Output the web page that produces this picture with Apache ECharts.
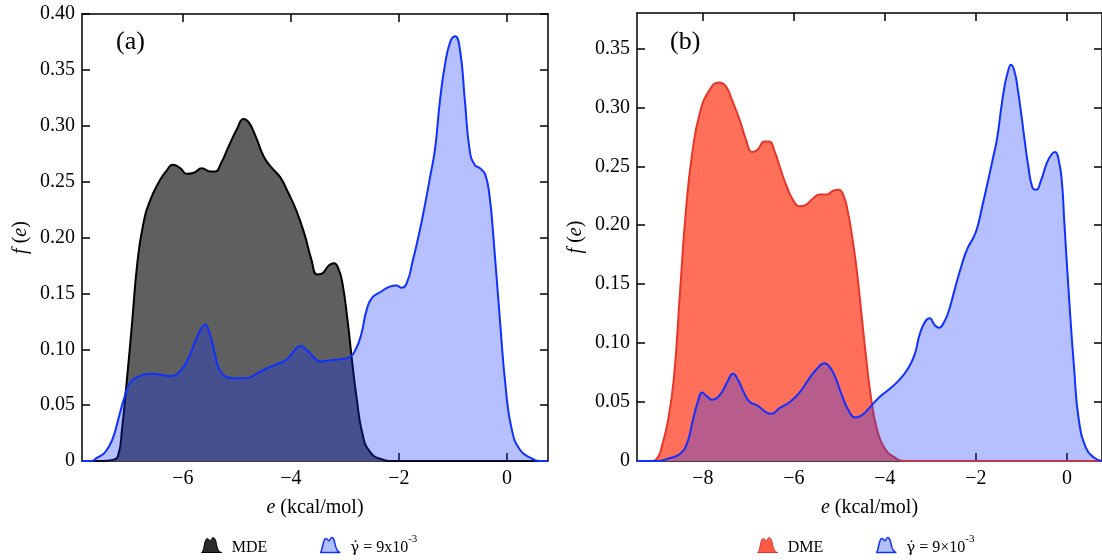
<!DOCTYPE html>
<html>
<head>
<meta charset="utf-8">
<script src="https://cdn.jsdelivr.net/npm/echarts@6/dist/echarts.min.js"></script>
<style>html,body{margin:0;padding:0;background:#fff;}#c{width:1102px;height:560px;}</style>
</head>
<body>
<div id="c"></div>
<script>
// ---------- Panel (a) ----------
var mdeX = [-7.87, -7.50, -7.30, -7.20, -7.13, -7.04, -6.94, -6.85, -6.74, -6.61, -6.43, -6.30, -6.19, -6.05, -5.93, -5.80, -5.65, -5.50, -5.40, -5.30, -5.15, -5.00, -4.88, -4.78, -4.65, -4.50, -4.35, -4.20, -4.05, -3.90, -3.75, -3.62, -3.52, -3.42, -3.30, -3.20, -3.12, -3.05, -2.95, -2.87, -2.78, -2.68, -2.55, -2.35, -2.10, 0.76];
var mdeY = [0, 0, 0.001, 0.005, 0.028, 0.072, 0.125, 0.175, 0.211, 0.233, 0.251, 0.260, 0.265, 0.262, 0.257, 0.258, 0.262, 0.259, 0.259, 0.266, 0.282, 0.297, 0.306, 0.303, 0.290, 0.272, 0.262, 0.254, 0.240, 0.224, 0.203, 0.180, 0.167, 0.168, 0.175, 0.177, 0.172, 0.160, 0.125, 0.090, 0.055, 0.025, 0.009, 0.002, 0, 0];

var gamAX = [-7.87, -7.70, -7.59, -7.44, -7.31, -7.20, -7.09, -6.98, -6.80, -6.61, -6.40, -6.24, -6.06, -5.90, -5.78, -5.67, -5.59, -5.50, -5.42, -5.33, -5.22, -5.09, -4.85, -4.57, -4.30, -4.10, -3.95, -3.83, -3.72, -3.60, -3.46, -3.30, -3.10, -2.91, -2.80, -2.70, -2.60, -2.50, -2.35, -2.17, -2.05, -1.95, -1.85, -1.75, -1.62, -1.52, -1.42, -1.33, -1.24, -1.15, -1.05, -0.96, -0.87, -0.78, -0.69, -0.60, -0.50, -0.40, -0.32, -0.26, -0.13, -0.02, 0.09, 0.24, 0.43, 0.60, 0.76];
var gamAY = [0, 0, 0.003, 0.008, 0.019, 0.037, 0.056, 0.070, 0.076, 0.078, 0.077, 0.076, 0.080, 0.092, 0.106, 0.118, 0.122, 0.113, 0.098, 0.082, 0.076, 0.074, 0.074, 0.080, 0.086, 0.090, 0.098, 0.103, 0.100, 0.094, 0.089, 0.090, 0.091, 0.093, 0.100, 0.113, 0.135, 0.146, 0.151, 0.156, 0.157, 0.155, 0.160, 0.178, 0.205, 0.229, 0.255, 0.280, 0.323, 0.354, 0.375, 0.380, 0.368, 0.323, 0.278, 0.265, 0.262, 0.256, 0.236, 0.206, 0.126, 0.064, 0.028, 0.010, 0.003, 0, 0];

// ---------- Panel (b) ----------
var dmeX = [-9.45, -9.10, -8.98, -8.90, -8.77, -8.64, -8.51, -8.38, -8.24, -8.07, -7.85, -7.65, -7.50, -7.35, -7.19, -7.05, -6.92, -6.80, -6.65, -6.55, -6.42, -6.30, -6.15, -6.00, -5.88, -5.75, -5.60, -5.44, -5.28, -5.15, -5.02, -4.90, -4.82, -4.74, -4.63, -4.52, -4.41, -4.30, -4.17, -4.01, -3.79, -3.57, 0.77];
var dmeY = [0, 0, 0.004, 0.013, 0.034, 0.070, 0.140, 0.210, 0.260, 0.295, 0.315, 0.321, 0.318, 0.305, 0.289, 0.272, 0.262, 0.264, 0.271, 0.271, 0.262, 0.248, 0.232, 0.220, 0.216, 0.217, 0.222, 0.226, 0.226, 0.229, 0.230, 0.224, 0.212, 0.195, 0.165, 0.126, 0.086, 0.052, 0.026, 0.011, 0.003, 0, 0];

var gamBX = [-9.45, -9.00, -8.77, -8.51, -8.35, -8.22, -8.10, -8.02, -7.92, -7.80, -7.63, -7.48, -7.34, -7.22, -7.10, -6.97, -6.80, -6.60, -6.50, -6.31, -6.09, -5.88, -5.70, -5.50, -5.33, -5.20, -5.08, -4.95, -4.80, -4.65, -4.50, -4.30, -4.10, -3.90, -3.68, -3.50, -3.35, -3.24, -3.12, -3.02, -2.90, -2.81, -2.70, -2.60, -2.45, -2.30, -2.19, -2.05, -1.97, -1.85, -1.75, -1.62, -1.53, -1.45, -1.38, -1.30, -1.23, -1.15, -1.08, -1.00, -0.94, -0.85, -0.76, -0.68, -0.57, -0.45, -0.34, -0.26, -0.18, -0.11, -0.06, 0.05, 0.16, 0.26, 0.42, 0.59, 0.77];
var gamBY = [0, 0, 0.002, 0.006, 0.015, 0.035, 0.052, 0.058, 0.055, 0.052, 0.056, 0.066, 0.074, 0.068, 0.058, 0.050, 0.047, 0.041, 0.040, 0.045, 0.050, 0.058, 0.068, 0.078, 0.083, 0.079, 0.070, 0.056, 0.043, 0.037, 0.039, 0.047, 0.055, 0.061, 0.069, 0.078, 0.090, 0.107, 0.118, 0.121, 0.115, 0.113, 0.118, 0.127, 0.148, 0.168, 0.180, 0.190, 0.198, 0.218, 0.235, 0.258, 0.275, 0.298, 0.316, 0.330, 0.336, 0.330, 0.315, 0.293, 0.275, 0.250, 0.232, 0.230, 0.238, 0.252, 0.260, 0.262, 0.255, 0.236, 0.204, 0.136, 0.077, 0.035, 0.011, 0.003, 0];

var xTicksA = [-6, -4, -2, 0];
var xTicksB = [-8, -6, -4, -2, 0];
var yTicksA = [0, 0.05, 0.10, 0.15, 0.20, 0.25, 0.30, 0.35, 0.40];
var yTicksB = [0, 0.05, 0.10, 0.15, 0.20, 0.25, 0.30, 0.35];
var xRangeA = [-7.87, 0.76];
var xRangeB = [-9.45, 0.77];
var yMaxA = 0.40;
var yMaxB = 0.38;

var FONT = 'Liberation Serif';
function pairs(xs, ys) { return xs.map(function (x, i) { return [x, ys[i]]; }); }
function fmtX(v) { return v < 0 ? '\u2212' + Math.abs(v) : String(v); }
function fmtY(v) { return v === 0 ? '0' : v.toFixed(2); }

function xAxisPair(gi, range, ticks) {
  var base = {
    type: 'value', gridIndex: gi, min: range[0], max: range[1],
    splitLine: { show: false },
    axisLine: { show: true, onZero: false, lineStyle: { color: '#000', width: 1.5 } },
    axisTick: { show: true, inside: true, length: 8, customValues: ticks, lineStyle: { color: '#000', width: 1.5 } }
  };
  var bottom = Object.assign({}, base, {
    position: 'bottom',
    axisLabel: { show: true, customValues: ticks, formatter: fmtX, color: '#000', fontFamily: FONT, fontSize: 20, margin: 8 },
    name: '{i|e} (kcal/mol)', nameLocation: 'middle', nameGap: 37,
    nameTextStyle: { color: '#000', fontFamily: FONT, fontSize: 20, rich: { i: { fontStyle: 'italic', fontFamily: FONT, fontSize: 20, color: '#000' } } }
  });
  var top = Object.assign({}, base, { position: 'top', axisLabel: { show: false } });
  return [bottom, top];
}
function yAxisPair(gi, max, ticks) {
  var base = {
    type: 'value', gridIndex: gi, min: 0, max: max,
    splitLine: { show: false },
    axisLine: { show: true, onZero: false, lineStyle: { color: '#000', width: 1.5 } },
    axisTick: { show: true, inside: true, length: 8, customValues: ticks, lineStyle: { color: '#000', width: 1.5 } }
  };
  var left = Object.assign({}, base, {
    position: 'left',
    axisLabel: { show: true, customValues: ticks, formatter: fmtY, color: '#000', fontFamily: FONT, fontSize: 20, margin: 7 },
    name: '{i|f} ({i|e})', nameLocation: 'middle', nameGap: 51,
    nameTextStyle: { color: '#000', fontFamily: FONT, fontSize: 20, rich: { i: { fontStyle: 'italic', fontFamily: FONT, fontSize: 20, color: '#000' } } }
  });
  var right = Object.assign({}, base, { position: 'right', axisLabel: { show: false } });
  return [left, right];
}

var xa = xAxisPair(0, xRangeA, xTicksA), xb = xAxisPair(1, xRangeB, xTicksB);
var ya = yAxisPair(0, yMaxA, yTicksA), yb = yAxisPair(1, yMaxB, yTicksB);

var BLUE = '#1030ff';
var BLUE_FILL = 'rgba(15,45,255,0.30)';
var ICON = 'path://M0,20 C3,20 3,6 6,4 C8,2 9,7 11,6 C13,1 15,1 17,7 C18,12 19,20 24,20 Z';
var GAMMA = '\u03B3\u0307';

function legendFmt(name) {
  var out = '';
  var rest = name;
  if (rest.indexOf(GAMMA) === 0) { out += '{g|' + GAMMA + '}'; rest = rest.slice(GAMMA.length); }
  var p = rest.split('^');
  out += '{t|' + p[0] + '}';
  if (p.length > 1) out += '{s|' + p[1] + '}';
  return out;
}
var legendText = {
  color: '#000', fontFamily: FONT, fontSize: 16, padding: [0, 0, 0, 3],
  rich: {
    g: { fontFamily: 'DejaVu Serif', fontSize: 15, color: '#000', lineHeight: 22, verticalAlign: 'bottom' },
    t: { fontFamily: FONT, fontSize: 16, color: '#000', lineHeight: 22, verticalAlign: 'bottom' },
    s: { fontFamily: FONT, fontSize: 11, color: '#000', lineHeight: 22, verticalAlign: 'top' }
  }
};

var nameGA = GAMMA + ' = 9x10^-3';
var nameGB = GAMMA + ' = 9\u00D710^-3';

function lineSeries(name, xi, yi, xs, ys, lineColor, fill, z) {
  return {
    name: name, type: 'line', xAxisIndex: xi, yAxisIndex: yi,
    data: pairs(xs, ys), smooth: 0.5, showSymbol: false, symbol: 'none',
    lineStyle: { color: lineColor, width: 2 }, itemStyle: { color: lineColor },
    areaStyle: { color: fill, opacity: 1 }, z: z, silent: true
  };
}

var option = {
  backgroundColor: '#fff',
  animation: false,
  grid: [
    { left: 82, right: 554, top: 14, bottom: 99, containLabel: false },
    { left: 637, right: 0, top: 13, bottom: 99, containLabel: false }
  ],
  xAxis: [xa[0], xa[1], xb[0], xb[1]],
  yAxis: [ya[0], ya[1], yb[0], yb[1]],
  legend: [
    {
      left: 196, top: 529, itemWidth: 24, itemHeight: 15, itemGap: 52,
      formatter: legendFmt, textStyle: legendText,
      data: [
        { name: 'MDE', icon: ICON, itemStyle: { color: '#2a2a2a', borderColor: '#000', borderWidth: 1 } },
        { name: nameGA, icon: ICON, itemStyle: { color: '#b3c0ff', borderColor: BLUE, borderWidth: 1.5 } }
      ]
    },
    {
      left: 752, top: 529, itemWidth: 24, itemHeight: 15, itemGap: 52,
      formatter: legendFmt, textStyle: legendText,
      data: [
        { name: 'DME', icon: ICON, itemStyle: { color: '#ff5a45', borderColor: '#e8352a', borderWidth: 1 } },
        { name: nameGB, icon: ICON, itemStyle: { color: '#b3c0ff', borderColor: BLUE, borderWidth: 1.5 } }
      ]
    }
  ],
  graphic: [
    { type: 'text', left: 116, top: 29, style: { text: '(a)', font: '26px "Liberation Serif"', fill: '#000' } },
    { type: 'text', left: 670, top: 29, style: { text: '(b)', font: '26px "Liberation Serif"', fill: '#000' } }
  ],
  series: [
    lineSeries('MDE', 0, 0, mdeX, mdeY, '#000', '#5f5f5f', 2),
    lineSeries(nameGA, 0, 0, gamAX, gamAY, BLUE, BLUE_FILL, 3),
    lineSeries('DME', 2, 2, dmeX, dmeY, '#e8352a', '#ff705a', 2),
    lineSeries(nameGB, 2, 2, gamBX, gamBY, BLUE, BLUE_FILL, 3)
  ]
};

var chart = echarts.init(document.getElementById('c'), null, { renderer: 'canvas' });
chart.setOption(option);
</script>
</body>
</html>
